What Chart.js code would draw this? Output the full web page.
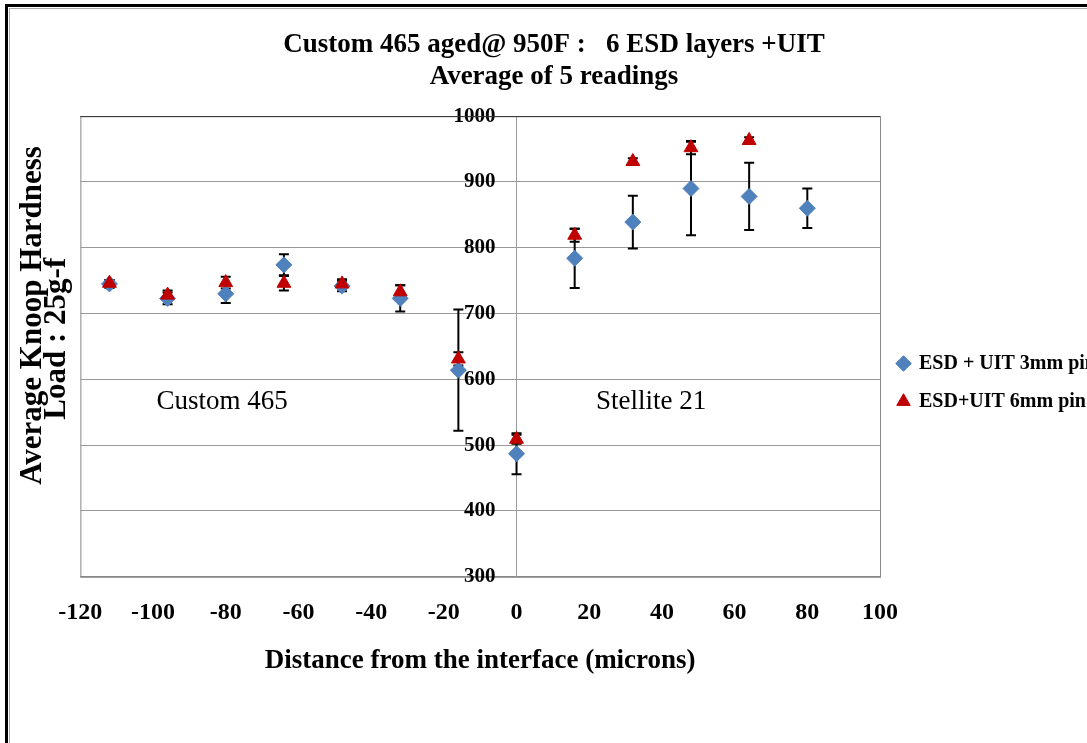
<!DOCTYPE html>
<html>
<head>
<meta charset="utf-8">
<script src="https://cdn.jsdelivr.net/npm/chart.js@4"></script>
<style>
  body { margin: 0; background: #fff; }
  #wrap { position: relative; width: 1087px; height: 743px; }
  #frame { position: absolute; left: 5px; top: 4px; width: 1200px; height: 900px;
           border-left: 3px solid #000; border-top: 3px solid #000; }
  #frame2 { position: absolute; left: 9px; top: 8px; width: 1200px; height: 900px;
            border-left: 1px solid #aaa; border-top: 1px solid #aaa; }
  canvas { position: absolute; left: 0; top: 0; }
</style>
</head>
<body>
<div id="wrap">
  <div id="frame"></div>
  <div id="frame2"></div>
  <canvas id="hardChart" width="1087" height="743"></canvas>
</div>
<script>
// distance from interface (microns)
const distances = [-112, -96, -80, -64, -48, -32, -16, 0, 16, 32, 48, 64, 80];

// ESD + UIT 3mm pin
const pin3Mean = [745, 723, 730, 774, 742, 723, 614, 487, 784, 839, 890, 878, 860];
const pin3Err  = [6, 9, 14, 16, 8, 20, 92, 31, 45, 40, 71, 51, 30];

// ESD+UIT 6mm pin (no reading at 80)
const pin6Mean = [746, 728, 747, 746, 745, 733, 631, 509, 819, 931, 952, 963, null];
const pin6Err  = [5, 7, 9, 11, 7, 10, 10, 7, 10, 5, 10, 5, null];

const regionLabels = ['Custom 465', 'Stellite 21'];

const serif = "'Liberation Serif', 'Times New Roman', serif";
const enSp = '\u2002';

const toPoints = (xs, ys) => xs.map((x, i) => ({ x: x, y: ys[i] })).filter(p => p.y !== null);

// error bars drawn with the y scale
const errorBars = {
  id: 'errorBars',
  beforeDatasetsDraw(chart) {
    const { ctx, scales: { x, y } } = chart;
    const sets = [[pin3Mean, pin3Err], [pin6Mean, pin6Err]];
    ctx.save();
    ctx.strokeStyle = '#000';
    ctx.lineWidth = 2;
    sets.forEach(([means, errs]) => {
      distances.forEach((d, i) => {
        if (means[i] === null) return;
        const px = x.getPixelForValue(d);
        const top = y.getPixelForValue(means[i] + errs[i]);
        const bot = y.getPixelForValue(means[i] - errs[i]);
        ctx.beginPath();
        ctx.moveTo(px, top); ctx.lineTo(px, bot);
        ctx.moveTo(px - 5, top); ctx.lineTo(px + 5, top);
        ctx.moveTo(px - 5, bot); ctx.lineTo(px + 5, bot);
        ctx.stroke();
      });
    });
    ctx.restore();
  }
};

// plot border and region captions
const plotDecor = {
  id: 'plotDecor',
  beforeDraw(chart) {
    const { ctx, chartArea: a } = chart;
    ctx.save();
    ctx.strokeStyle = '#888';
    ctx.lineWidth = 1;
    ctx.strokeRect(a.left + 0.5, a.top + 0.5, a.right - a.left, a.bottom - a.top);
    ctx.restore();
  },
  afterDraw(chart) {
    const { ctx, chartArea: a } = chart;
    ctx.save();
    ctx.strokeStyle = '#333';
    ctx.lineWidth = 1;
    ctx.beginPath();
    ctx.moveTo(a.left, a.top + 0.5);
    ctx.lineTo(a.right, a.top + 0.5);
    ctx.stroke();
    ctx.restore();
  },
  afterDatasetsDraw(chart) {
    const { ctx, scales: { x, y } } = chart;
    ctx.save();
    ctx.fillStyle = '#000';
    ctx.font = '27px ' + serif;
    ctx.textAlign = 'center';
    ctx.textBaseline = 'middle';
    ctx.fillText(regionLabels[0], x.getPixelForValue(-81), y.getPixelForValue(566));
    ctx.fillText(regionLabels[1], x.getPixelForValue(37), y.getPixelForValue(566));
    ctx.restore();
  }
};

new Chart(document.getElementById('hardChart'), {
  type: 'scatter',
  data: {
    datasets: [
      {
        label: 'ESD + UIT 3mm pin',
        data: toPoints(distances, pin3Mean),
        pointStyle: 'rectRot',
        pointRadius: 8,
        pointHoverRadius: 8,
        backgroundColor: '#4F81BD',
        borderColor: '#4F81BD',
        order: 2
      },
      {
        label: 'ESD+UIT 6mm pin',
        data: toPoints(distances, pin6Mean),
        pointStyle: 'triangle',
        pointRadius: 8,
        pointHoverRadius: 8,
        backgroundColor: '#C00000',
        borderColor: '#C00000',
        order: 1
      }
    ]
  },
  options: {
    responsive: false,
    animation: false,
    layout: { padding: { left: 21, right: 0, bottom: 62 } },
    plugins: {
      title: {
        display: true,
        text: ['Custom 465 aged@ 950F :   6 ESD layers +UIT', 'Average of 5 readings'],
        color: '#000',
        font: { family: serif, size: 27, weight: 'bold', lineHeight: 1.15 },
        padding: { top: 30, bottom: 24 }
      },
      legend: {
        position: 'right',
        maxWidth: 207,
        title: { display: true, text: ' ', font: { size: 10 }, padding: { top: 72, bottom: 0 } },
        labels: {
          usePointStyle: true,
          color: '#000',
          font: { family: serif, size: 20, weight: 'bold' },
          padding: 18,
          boxWidth: 11,
          boxHeight: 11,
          sort: (a, b) => a.datasetIndex - b.datasetIndex
        }
      },
      tooltip: { enabled: false }
    },
    scales: {
      x: {
        type: 'linear',
        min: -120,
        max: 100,
        ticks: { stepSize: 20, color: '#000', padding: 14, font: { family: serif, size: 24, weight: 'bold' } },
        grid: { display: false },
        border: { color: '#888' },
        title: {
          display: true,
          text: 'Distance from the interface (microns)',
          color: '#000',
          font: { family: serif, size: 27, weight: 'bold' },
          padding: { top: 3 }
        }
      },
      y: {
        type: 'linear',
        position: { x: 0 },
        min: 300,
        max: 1000,
        ticks: {
          stepSize: 100, color: '#000',
          font: { family: serif, size: 21, weight: 'bold' },
          // labels sit left of the axis line at x = 0
          callback: v => String(v) + enSp + enSp
        },
        grid: { color: '#999', tickLength: 8 },
        border: { color: '#999' }
      },
      yt: {
        type: 'linear',
        position: 'left',
        min: 0,
        max: 1,
        ticks: { display: false },
        grid: { display: false, drawTicks: false },
        border: { display: false },
        title: {
          display: true,
          text: [enSp.repeat(4) + 'Average Knoop Hardness', enSp + 'Load : 25g-f'],
          color: '#000',
          font: { family: serif, size: 31, weight: 'bold', lineHeight: 0.78 },
          padding: { top: 0, bottom: 11 }
        }
      }
    }
  },
  plugins: [errorBars, plotDecor]
});
</script>
</body>
</html>
